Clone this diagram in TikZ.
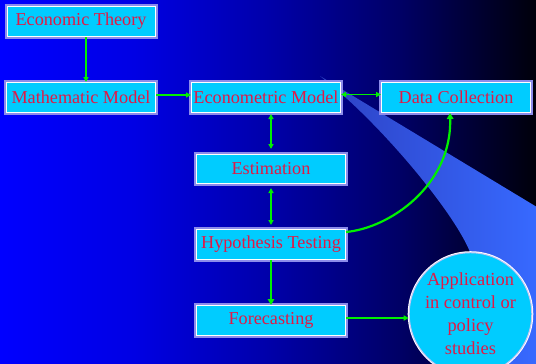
\documentclass[tikz,border=0pt]{standalone}
\usepackage{fontspec}
\setmainfont{Liberation Serif}
\usetikzlibrary{arrows.meta}
\definecolor{boxfill}{RGB}{0,204,255}
\definecolor{boxedge}{RGB}{140,140,235}
\definecolor{txtred}{RGB}{225,25,70}
\definecolor{arrgreen}{RGB}{0,240,0}
\definecolor{bg0}{RGB}{0,0,255}
\definecolor{bg1}{RGB}{0,0,228}
\definecolor{bg2}{RGB}{0,0,170}
\definecolor{bg3}{RGB}{0,0,100}
\definecolor{bg4}{RGB}{0,0,10}
\definecolor{beamL}{RGB}{45,65,195}
\definecolor{beamR}{RGB}{55,105,255}
\pgfdeclarehorizontalshading{bgshade}{100bp}{color(0bp)=(bg0); color(25bp)=(bg0); color(37.5bp)=(bg1); color(50bp)=(bg2); color(62.5bp)=(bg3); color(75bp)=(bg4); color(100bp)=(bg4)}
\tikzset{
  stepbox/.style={rectangle, preaction={draw=boxedge, line width=5pt}, fill=boxfill, draw=white, line width=1pt,
    minimum width=149pt, minimum height=30pt, inner sep=0pt, text=txtred, font=\fontsize{18.2}{23}\selectfont},
  endcirc/.style={circle, preaction={draw=white, line width=3pt}, fill=boxfill, draw=boxedge!50!white, line width=1pt,
    minimum size=122pt, inner sep=0pt, text=txtred, align=center, font=\fontsize{18.4}{23}\selectfont},
  conn/.style={draw=arrgreen, line width=1.3pt, -{Triangle[length=5pt,width=5pt]}},
  bconn/.style={draw=arrgreen, line width=1.3pt, {Triangle[length=5pt,width=5pt]}-{Triangle[length=5pt,width=5pt]}},
  thick conn/.style={draw=arrgreen, line width=2.2pt, -{Triangle[length=6pt,width=6.5pt]}}
}
\begin{document}
\begin{tikzpicture}[x=1pt,y=-1pt]
\useasboundingbox (0,0) rectangle (536,364);
\shade[shading=bgshade] (0,0) rectangle (536,364);
% light beam
\shade[left color=beamL, right color=beamR]
  (320,76) -- (536,206.5) -- (536,364) -- (470,364) -- (470,252)
  .. controls (455,215) and (395,142) .. (345,97) -- cycle;
% nodes
\node[stepbox, minimum width=148pt] (et) at (81,21.5) {Economic Theory};
\node[stepbox] (mm) at (81,97.5) {Mathematic Model};
\node[stepbox] (em) at (266,97.5) {Econometric Model};
\node[stepbox] (dc) at (456,97.5) {Data Collection};
\node[stepbox, minimum height=29pt] (es) at (271,169) {Estimation};
\node[stepbox] (ht) at (271,244.5) {Hypothesis Testing};
\node[stepbox] (fc) at (271,320.5) {Forecasting};
\node[endcirc] (ap) at (470.5,314) {Application\\in control or\\policy\\studies};
% connectors
\draw[conn] ([xshift=5pt]et.south) -- ([xshift=5pt]mm.north);
\draw[conn] ([yshift=2.5pt]mm.east) -- ([yshift=2.5pt]em.west);
\draw[bconn] ([yshift=3pt]em.east) -- ([yshift=3pt]dc.west);
\draw[bconn, shorten <=1pt, shorten >=5pt] (es.north |- em.south) -- (es.north);
\draw[bconn, shorten <=4pt, shorten >=4pt] (es.south) -- (ht.north);
\draw[thick conn] (ht.south) -- (fc.north);
\draw[thick conn] ([yshift=-3pt]ht.north east) .. controls (390,228) and (452,185) .. ([xshift=-6pt]dc.south);
\draw[conn, line width=1.6pt] ([yshift=2.5pt]fc.east) -- ([yshift=2.5pt]fc.east -| ap.west);
\end{tikzpicture}
\end{document}
